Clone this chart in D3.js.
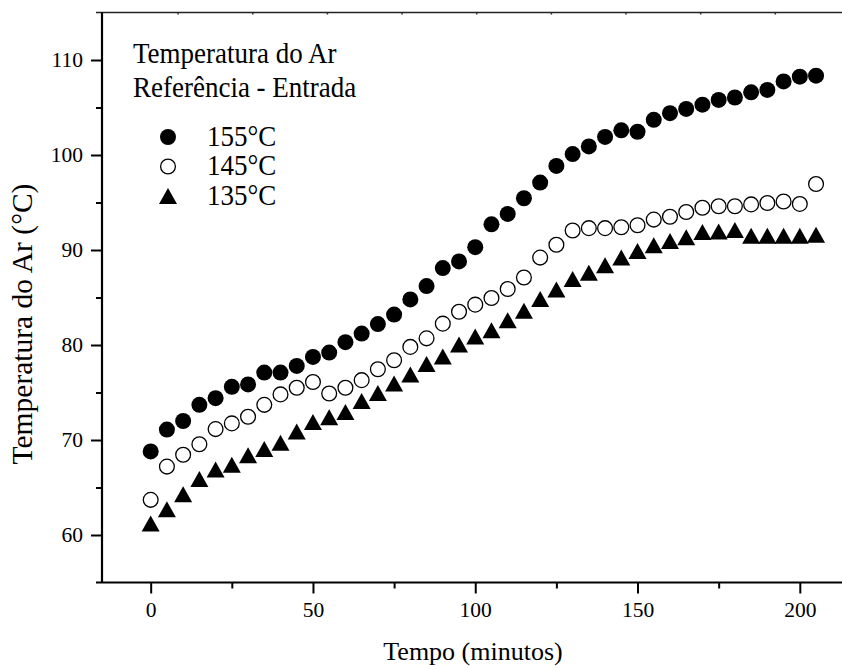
<!DOCTYPE html>
<html>
<head>
<meta charset="utf-8">
<script src="https://cdn.jsdelivr.net/npm/d3@7"></script>
<style>
  body { margin: 0; background: #fff; }
  svg { display: block; font-family: "Liberation Serif", "Times New Roman", serif; }
</style>
</head>
<body>
<svg id="chart" width="842" height="669"></svg>
<script>
// time in minutes
const tempo = [0, 5, 10, 15, 20, 25, 30, 35, 40, 45, 50, 55, 60, 65, 70, 75, 80, 85, 90, 95, 100,
  105, 110, 115, 120, 125, 130, 135, 140, 145, 150, 155, 160, 165, 170, 175, 180, 185, 190, 195, 200, 205];

// air temperature readings for each drying temperature
const t155 = [68.8, 71.1, 72.0, 73.7, 74.4, 75.6, 75.85, 77.1, 77.1, 77.8, 78.75, 79.2, 80.3, 81.2, 82.2, 83.2, 84.8, 86.2, 88.1, 88.8, 90.3,
  92.7, 93.8, 95.45, 97.1, 98.85, 100.1, 100.9, 101.9, 102.6, 102.45, 103.7, 104.4, 104.85, 105.3, 105.8, 106.05, 106.6, 106.85, 107.75, 108.25, 108.35];
const t145 = [63.7, 67.2, 68.45, 69.55, 71.15, 71.75, 72.45, 73.7, 74.8, 75.5, 76.1, 74.9, 75.5, 76.3, 77.45, 78.4, 79.8, 80.7, 82.25, 83.5, 84.25,
  84.95, 85.9, 87.1, 89.2, 90.55, 92.05, 92.3, 92.3, 92.4, 92.6, 93.2, 93.5, 94.0, 94.45, 94.6, 94.6, 94.8, 94.95, 95.1, 94.85, 96.95];
const t135 = [61.2, 62.7, 64.3, 65.9, 66.9, 67.4, 68.4, 69.05, 69.7, 70.9, 71.9, 72.4, 72.95, 74.1, 74.95, 75.95, 76.9, 78.0, 78.8, 80.05, 80.9,
  81.55, 82.6, 83.6, 84.85, 85.85, 86.95, 87.6, 88.4, 89.2, 89.9, 90.5, 90.95, 91.35, 91.9, 91.95, 92.1, 91.5, 91.5, 91.5, 91.5, 91.6];

const xTicks = [0, 50, 100, 150, 200];
const xMinor = [25, 75, 125, 175];
const yTicks = [60, 70, 80, 90, 100, 110];
const yMinor = [65, 75, 85, 95, 105];
const legendTitle = ["Temperatura do Ar", "Referência - Entrada"];
const series = [
  { name: "155°C", values: t155, type: "filled" },
  { name: "145°C", values: t145, type: "open" },
  { name: "135°C", values: t135, type: "triangle" }
];

const plotLeft = 102, plotRight = 842, plotTop = 12.5, plotBottom = 582.5;
const serif = "'Liberation Serif', 'Times New Roman', serif";

const svg = d3.select("#chart");

let x = d3.scaleLinear().domain([-15, 213]).range([plotLeft, plotRight]);
let y = d3.scaleLinear().domain([55, 115]).range([plotBottom, plotTop]);

// tiny ticks along the top border
const topTicks = [8.3, 31.3, 54.3, 77.3, 100.3, 123.3, 146.3, 169.3, 192.3];

// ---- axes ----
let gx = svg.append("g").attr("transform", "translate(0," + plotBottom + ")");
gx.call(d3.axisBottom(x).tickValues(xTicks).tickSize(11).tickSizeOuter(0).tickPadding(8));
gx.append("g").call(d3.axisBottom(x).tickValues(xMinor).tickSize(6).tickFormat(""));
gx.selectAll(".domain").remove();
gx.selectAll("line").attr("stroke", "#000").attr("stroke-width", 2);
gx.selectAll("text").attr("fill", "#000").style("font-family", serif).style("font-size", "21.5px");

let gy = svg.append("g").attr("transform", "translate(" + plotLeft + ",0)");
gy.call(d3.axisLeft(y).tickValues(yTicks).tickSize(11).tickSizeOuter(0).tickPadding(8));
gy.append("g").call(d3.axisLeft(y).tickValues(yMinor).tickSize(6).tickFormat(""));
gy.selectAll(".domain").remove();
gy.selectAll("line").attr("stroke", "#000").attr("stroke-width", 2);
gy.selectAll("text").attr("fill", "#000").style("font-family", serif).style("font-size", "21.5px");

let gt = svg.append("g").attr("transform", "translate(0," + plotTop + ")");
gt.call(d3.axisBottom(x).tickValues(topTicks).tickSize(2).tickFormat(""));
gt.selectAll(".domain").remove();
gt.selectAll("line").attr("stroke", "#333").attr("stroke-width", 1.5);

// frame lines
svg.append("line").attr("x1", plotLeft - 6).attr("x2", plotRight).attr("y1", plotBottom).attr("y2", plotBottom)
  .attr("stroke", "#000").attr("stroke-width", 2.2);
svg.append("line").attr("x1", plotLeft - 6).attr("x2", plotRight).attr("y1", plotTop).attr("y2", plotTop)
  .attr("stroke", "#222").attr("stroke-width", 1.6);
svg.append("line").attr("x1", plotLeft).attr("x2", plotLeft).attr("y1", plotTop).attr("y2", plotBottom)
  .attr("stroke", "#000").attr("stroke-width", 2.2);

// axis titles
svg.append("text").attr("x", 473).attr("y", 660).attr("text-anchor", "middle")
  .style("font-size", "26px").text("Tempo (minutos)");
svg.append("text").attr("transform", "translate(32,324) rotate(-90)").attr("text-anchor", "middle")
  .style("font-size", "29.5px").text("Temperatura do Ar (°C)");

// ---- markers ----
function tri(cx, cy, w, h) {
  return "M" + cx + "," + (cy - h / 2) + "L" + (cx + w / 2) + "," + (cy + h / 2) + "L" + (cx - w / 2) + "," + (cy + h / 2) + "Z";
}
function drawMarker(g, type, cx, cy) {
  if (type === "filled") {
    g.append("circle").attr("cx", cx).attr("cy", cy).attr("r", 8).attr("fill", "#000");
  } else if (type === "open") {
    g.append("circle").attr("cx", cx).attr("cy", cy).attr("r", 7.4)
      .attr("fill", "none").attr("stroke", "#000").attr("stroke-width", 1.3);
  } else {
    g.append("path").attr("d", tri(cx, cy, 18, 16)).attr("fill", "#000");
  }
}

series.forEach(s => {
  let g = svg.append("g");
  s.values.forEach((v, i) => drawMarker(g, s.type, x(tempo[i]), y(v)));
});

// ---- legend ----
let lg = svg.append("g");
legendTitle.forEach((t, i) => {
  lg.append("text").attr("transform", "translate(133," + (63 + i * 34) + ") scale(1,1.06)")
    .style("font-size", "27px").text(t);
});
series.forEach((s, i) => {
  let cy = 137 + i * 29.5;
  drawMarker(lg, s.type, 168, cy);
  lg.append("text").attr("transform", "translate(207," + (cy + 8.5) + ") scale(1,1.06)")
    .style("font-size", "27px").text(s.name);
});
</script>
</body>
</html>
